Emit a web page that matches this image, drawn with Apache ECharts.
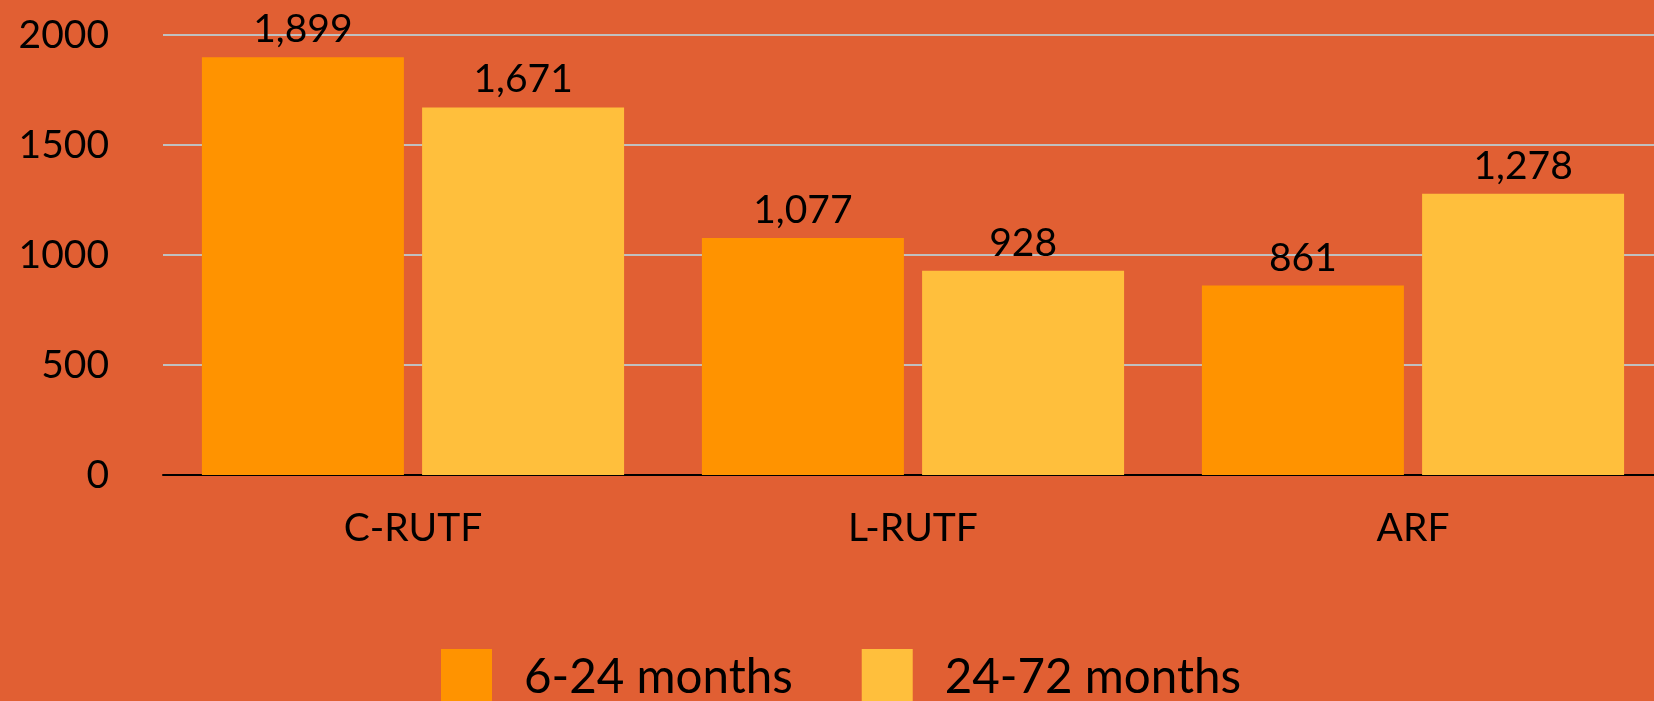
<!DOCTYPE html>
<html>
<head>
<meta charset="utf-8">
<script src="https://cdn.jsdelivr.net/npm/echarts@6/dist/echarts.min.js"></script>
<style>
  html, body { margin: 0; padding: 0; background: #e15f33; }
  #chart { width: 1654px; height: 701px; }
</style>
</head>
<body>
<div id="chart"></div>
<script>
const categories = ['C-RUTF', 'L-RUTF', 'ARF']
const seriesNames = ['6-24 months', '24-72 months']
const youngValues = [1899, 1077, 861]
const olderValues = [1671, 928, 1278]

const fontFamily = 'Lato, "Noto Sans", sans-serif'
const myChart = echarts.init(document.getElementById('chart'))

const labelStyle = {
  show: true,
  position: 'top',
  distance: 8,
  color: '#000',
  fontSize: 39,
  fontFamily,
  formatter: (p) => p.value.toLocaleString('en-US')
}

const option = {
  backgroundColor: '#e15f33',
  animation: false,
  textStyle: { fontFamily },
  grid: {
    left: 163,
    width: 1500,
    top: 35,
    bottom: 226,
    outerBoundsMode: 'none'
  },
  legend: {
    data: seriesNames,
    left: 436,
    top: 644,
    icon: 'rect',
    itemWidth: 51,
    itemHeight: 58,
    itemGap: 69,
    textStyle: {
      color: '#000',
      fontSize: 47.5,
      fontFamily,
      padding: [0, 0, 0, 27]
    }
  },
  xAxis: {
    type: 'category',
    data: categories,
    axisLine: {
      // 基线
      lineStyle: { color: '#000', width: 2 }
    },
    axisTick: { show: false },
    axisLabel: {
      color: '#000',
      fontSize: 39,
      fontFamily,
      margin: 34
    }
  },
  yAxis: {
    type: 'value',
    min: 0,
    max: 2000,
    interval: 500,
    axisLine: { show: false },
    axisTick: { show: false },
    axisLabel: {
      color: '#000',
      fontSize: 39,
      fontFamily,
      margin: 54,
      formatter: (v) => String(v)
    },
    splitLine: {
      lineStyle: { color: '#c0c0c0', width: 2 }
    }
  },
  series: [
    {
      name: seriesNames[0],
      type: 'bar',
      data: youngValues,
      barWidth: 202,
      barGap: '9%',
      itemStyle: { color: '#ff9300' },
      label: labelStyle
    },
    {
      name: seriesNames[1],
      type: 'bar',
      data: olderValues,
      barWidth: 202,
      barGap: '9%',
      itemStyle: { color: '#ffbf3c' },
      label: labelStyle
    }
  ]
}
myChart.setOption(option)
</script>
</body>
</html>
